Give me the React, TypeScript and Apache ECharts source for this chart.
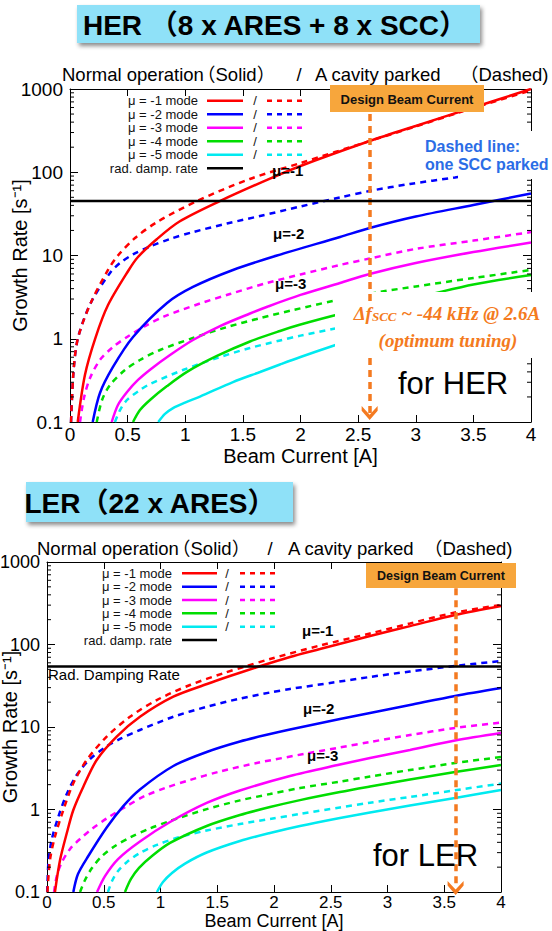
import React, { useEffect, useRef } from 'react';
import * as echarts from 'echarts';

// ---------- data (Beam current [A], growth rate [1/s]) ----------
const xTickValues = [0, 0.5, 1, 1.5, 2, 2.5, 3, 3.5, 4];
const yTickLabels = ['0.1', '1', '10', '100', '1000'];
const legendLabels = ['μ = -1 mode', 'μ = -2 mode', 'μ = -3 mode', 'μ = -4 mode', 'μ = -5 mode', 'rad. damp. rate'];
const modeColors = ['#ff0000', '#0000ff', '#ff00ff', '#00dd00', '#00eaf0'];
const minorTickValues = [0.2, 0.3, 0.4, 0.5, 0.6, 0.7, 0.8, 0.9, 2, 3, 4, 5, 6, 7, 8, 9, 20, 30, 40, 50, 60, 70, 80, 90, 200, 300, 400, 500, 600, 700, 800, 900];

// HER (8 x ARES + 8 x SCC)
const herSolid1 = [[0.067, 0.1], [0.13, 0.37], [0.22, 1.02], [0.33, 2.54], [0.51, 6.7], [0.59, 9.6], [0.755, 15.8], [0.95, 25.6], [1.3, 45], [1.71, 81], [2.0, 119], [2.6, 237], [3.0, 360], [3.5, 600], [4.0, 1000]];
const herDashed1 = [[0.009, 0.1], [0.03, 0.4], [0.069, 1.02], [0.18, 2.69], [0.33, 6.7], [0.416, 10], [0.564, 16.2], [0.755, 25.2], [1.1, 45], [1.56, 83], [2.0, 129], [2.6, 237], [3.0, 355], [3.5, 592], [4.0, 959]];
const herSolid2 = [[0.197, 0.1], [0.26, 0.223], [0.373, 0.458], [0.547, 1.05], [0.842, 2.69], [1.067, 4.19], [1.414, 6.7], [1.796, 10], [2.343, 16.7], [2.6, 21.4], [3.0, 29.4], [3.5, 40.4], [4.0, 55.6]];
const herDashed2 = [[0.009, 0.1], [0.03, 0.4], [0.069, 1.02], [0.18, 2.69], [0.347, 6.17], [0.434, 8.13], [0.547, 10.3], [0.694, 12.8], [0.868, 15.8], [1.067, 19.1], [1.362, 24.2], [1.649, 29.8], [2.0, 38.8], [2.343, 49.8], [2.6, 59.6], [2.95, 72.3], [3.34, 86.5], [3.4, 89]];
const herSolid3 = [[0.362, 0.1], [0.416, 0.16], [0.495, 0.229], [0.59, 0.32], [0.703, 0.434], [0.868, 0.638], [1.067, 0.966], [1.302, 1.42], [1.562, 2.01], [1.718, 2.44], [2.0, 3.36], [2.343, 4.68], [2.6, 6.0], [3.0, 8.13], [3.5, 11.0], [4.0, 14.3]];
const herDashed3 = [[0.087, 0.1], [0.121, 0.194], [0.174, 0.338], [0.26, 0.556], [0.373, 0.796], [0.495, 1.05], [0.651, 1.42], [0.824, 1.87], [1.128, 2.65], [1.388, 3.45], [1.709, 4.68], [2.0, 5.92], [2.343, 7.7], [2.6, 9.2], [3.0, 12.0], [3.5, 15.1], [4.0, 19.1]];
const herSolid4 = [[0.547, 0.1], [0.607, 0.139], [0.694, 0.184], [0.842, 0.27], [1.015, 0.4], [1.275, 0.621], [1.562, 0.927], [1.822, 1.24], [2.0, 1.48], [2.343, 1.98], [2.69, 2.54], [3.063, 3.26], [3.5, 4.49], [4.0, 5.83]];
const herDashed4 = [[0.232, 0.1], [0.278, 0.184], [0.347, 0.278], [0.477, 0.421], [0.607, 0.556], [0.781, 0.733], [1.067, 1.02], [1.362, 1.38], [1.649, 1.77], [1.935, 2.21], [2.282, 2.84], [2.69, 3.65], [3.0, 4.25], [3.5, 5.37], [4.0, 6.7]];
const herSolid5 = [[0.766, 0.1], [0.824, 0.125], [0.894, 0.147], [0.998, 0.171], [1.128, 0.202], [1.414, 0.302], [1.649, 0.399], [1.822, 0.491], [2.0, 0.604], [2.317, 0.853]];
const herDashed5 = [[0.39, 0.1], [0.434, 0.139], [0.495, 0.184], [0.607, 0.242], [0.694, 0.286], [0.98, 0.421], [1.275, 0.587], [1.562, 0.775], [1.822, 0.953], [2.0, 1.09], [2.3, 1.33]];
const herDampRate = 45;
const herDesignCurrent = 2.6;

// LER (22 x ARES)
const lerSolid1 = [[0.07, 0.1], [0.115, 0.244], [0.174, 0.515], [0.232, 0.986], [0.32, 1.89], [0.438, 3.98], [0.614, 7.64], [0.819, 13.3], [1.113, 23.3], [1.41, 33.2], [1.612, 41.5], [1.841, 52.6], [2.141, 70.5], [2.405, 88], [2.846, 127], [3.198, 167], [3.595, 228], [4.0, 293]];
const lerDashed1 = [[0.004, 0.1], [0.026, 0.244], [0.07, 0.468], [0.144, 0.986], [0.232, 2.08], [0.35, 3.98], [0.526, 7.64], [0.731, 13.3], [0.967, 21.2], [1.26, 32.3], [1.553, 44.8], [1.744, 54.1], [1.965, 66.7], [2.405, 97.2], [2.846, 136], [3.198, 180], [3.595, 244], [4.0, 301]];
const lerSolid2 = [[0.232, 0.1], [0.273, 0.165], [0.364, 0.273], [0.526, 0.605], [0.672, 1.1], [0.819, 1.75], [1.113, 3.37], [1.407, 4.98], [1.7, 6.67], [1.965, 8.22], [2.141, 9.33], [2.581, 12.5], [2.846, 14.8], [3.198, 18.5], [3.595, 23.8], [4.0, 29.7]];
const lerDashed2 = [[0.002, 0.1], [0.013, 0.231], [0.041, 0.427], [0.1, 0.818], [0.174, 1.54], [0.262, 2.62], [0.379, 4.09], [0.511, 5.65], [0.643, 7.16], [0.819, 9.2], [1.113, 13.3], [1.407, 17.6], [1.7, 22.1], [1.965, 26.2], [2.141, 28.9], [2.52, 34.6], [2.846, 40.4], [3.198, 47.1], [3.595, 54.9], [4.0, 63.1]];
const lerSolid3 = [[0.441, 0.1], [0.511, 0.156], [0.626, 0.251], [0.819, 0.41], [1.084, 0.705], [1.407, 1.2], [1.7, 1.7], [2.141, 2.55], [2.581, 3.51], [2.846, 4.21], [3.198, 5.26], [3.595, 6.86], [4.0, 8.46]];
const lerDashed3 = [[0.062, 0.1], [0.088, 0.161], [0.132, 0.231], [0.203, 0.332], [0.291, 0.439], [0.396, 0.581], [0.526, 0.778], [0.687, 1.07], [0.863, 1.46], [1.04, 1.82], [1.26, 2.28], [1.524, 2.89], [1.848, 3.66], [2.288, 4.78], [2.581, 5.65], [2.846, 6.58], [3.198, 8.0], [3.595, 9.73], [4.0, 11.3]];
const lerSolid4 = [[0.687, 0.1], [0.74, 0.144], [0.811, 0.196], [0.925, 0.273], [1.084, 0.393], [1.407, 0.631], [1.7, 0.857], [1.965, 1.07], [2.229, 1.3], [2.581, 1.63], [2.846, 1.9], [3.198, 2.31], [3.595, 2.85], [4.0, 3.46]];
const lerDashed4 = [[0.291, 0.1], [0.335, 0.14], [0.396, 0.195], [0.485, 0.273], [0.599, 0.361], [0.731, 0.458], [0.907, 0.589], [1.084, 0.726], [1.407, 1.01], [1.7, 1.29], [1.965, 1.54], [2.229, 1.82], [2.581, 2.18], [2.846, 2.51], [3.198, 3.01], [3.595, 3.66], [4.0, 4.33]];
const lerSolid5 = [[0.969, 0.1], [1.022, 0.132], [1.101, 0.17], [1.216, 0.221], [1.407, 0.301], [1.7, 0.415], [1.965, 0.519], [2.229, 0.631], [2.581, 0.789], [2.846, 0.92], [3.198, 1.12], [3.595, 1.38], [4.0, 1.72]];
const lerDashed5 = [[0.537, 0.1], [0.573, 0.136], [0.626, 0.18], [0.705, 0.231], [0.819, 0.297], [0.969, 0.372], [1.172, 0.465], [1.407, 0.556], [1.7, 0.667], [1.965, 0.767], [2.229, 0.882], [2.581, 1.06], [2.846, 1.21], [3.198, 1.42], [3.595, 1.71], [4.0, 2.06]];
const lerDampRate = 54;
const lerDesignCurrent = 3.6;

const herSolid = [herSolid1, herSolid2, herSolid3, herSolid4, herSolid5];
const herDashed = [herDashed1, herDashed2, herDashed3, herDashed4, herDashed5];
const lerSolid = [lerSolid1, lerSolid2, lerSolid3, lerSolid4, lerSolid5];
const lerDashed = [lerDashed1, lerDashed2, lerDashed3, lerDashed4, lerDashed5];

// ---------- styling helpers ----------
const SANS = '"Liberation Sans", Arial, Helvetica, "Noto Sans CJK JP", sans-serif';
const SERIF = '"Liberation Serif", "Times New Roman", serif';
const ORANGE = '#f47a20';
const DASH = [6, 5];

const fmtLog = (v: number) => {
  const n = Number(Number(v).toPrecision(6));
  const i = Math.round(Math.log10(n)) + 1;
  return yTickLabels[i] ?? String(n);
};

function xAxes(gridIndex: number, nameGap: number, nameSize: number, labelSize: number, labelMargin: number) {
  const common = {
    type: 'value', gridIndex, min: 0, max: 4, interval: 0.5,
    axisLine: { show: true, onZero: false, lineStyle: { color: '#000', width: 1 } },
    axisTick: { show: true, inside: true, length: 7, lineStyle: { color: '#000', width: 1 } },
    splitLine: { show: false },
  };
  return [
    {
      ...common, position: 'bottom',
      name: 'Beam Current [A]', nameLocation: 'middle', nameGap, nameMoveOverlap: false,
      nameTextStyle: { fontSize: nameSize, color: '#000', fontFamily: SANS, lineHeight: nameSize },
      axisLabel: { color: '#000', fontSize: labelSize, lineHeight: labelSize, fontFamily: SANS, margin: labelMargin, formatter: (v: number) => String(xTickValues.find((t) => Math.abs(t - v) < 1e-6) ?? v) },
    },
    { ...common, position: 'top', axisLabel: { show: false } },
  ];
}

function yAxes(gridIndex: number, nameGap: number, nameSize: number, labelSize: number) {
  const common = {
    type: 'log', logBase: 10, gridIndex, min: 0.1, max: 1000,
    axisLine: { show: true, onZero: false, lineStyle: { color: '#000', width: 1 } },
    axisTick: { show: true, inside: true, length: 8, lineStyle: { color: '#000', width: 1 } },
    splitLine: { show: false },
  };
  return [
    {
      ...common, position: 'left',
      name: 'Growth Rate [s⁻¹]', nameLocation: 'middle', nameGap, nameMoveOverlap: false,
      nameTextStyle: { fontSize: nameSize, color: '#000', fontFamily: SANS },
      axisLabel: { color: '#000', fontSize: labelSize, fontFamily: SANS, margin: 7, formatter: fmtLog },
    },
    { ...common, position: 'right', axisLabel: { show: false } },
  ];
}

function curve(data: number[][], color: string, dashed: boolean, axis: number) {
  return {
    type: 'line', xAxisIndex: axis, yAxisIndex: axis, data,
    showSymbol: false, symbol: 'none', smooth: 0.3,
    lineStyle: { color, width: 2.5, type: dashed ? DASH : 'solid' },
    silent: true, z: 3, animation: false,
  };
}

function minorTicks(axis: number) {
  return {
    type: 'custom', xAxisIndex: axis, yAxisIndex: axis, silent: true, z: 4,
    data: minorTickValues.map((v) => [0, v]),
    renderItem: (_p: any, api: any) => {
      const v = api.value(1);
      const l = api.coord([0, v]);
      const r = api.coord([4, v]);
      const style = { stroke: '#000', lineWidth: 1 };
      return {
        type: 'group',
        children: [
          { type: 'line', shape: { x1: l[0], y1: l[1], x2: l[0] + 4, y2: l[1] }, style },
          { type: 'line', shape: { x1: r[0] - 4, y1: r[1], x2: r[0], y2: r[1] }, style },
        ],
      };
    },
  };
}

const arrowHead = 'path://M5,0 L10,6 L10,9 L5,3.5 L0,9 L0,6 Z';

function dampSeries(rate: number, axis: number, segments: number[][][]) {
  return {
    type: 'line', xAxisIndex: axis, yAxisIndex: axis,
    data: [[0, rate], [4, rate]], showSymbol: false, symbol: 'none',
    lineStyle: { color: '#000', width: 2.5 }, silent: true, z: 10,
    markLine: {
      silent: true, animation: false,
      label: { show: false },
      lineStyle: { color: ORANGE, width: 3.5, type: [7, 5] },
      data: segments.map((seg, i) => [
        { coord: seg[0], symbol: 'none' },
        { coord: seg[1], symbol: i === segments.length - 1 ? arrowHead : 'none', symbolSize: [16, 14] },
      ]),
    },
  };
}

function legendGraphic(textRight: number, y0: number, dy: number, s1: number, s2: number, slashX: number, d1: number, d2: number) {
  const els: any[] = [];
  legendLabels.forEach((label, i) => {
    const y = y0 + i * dy;
    const color = i < 5 ? modeColors[i] : '#000';
    els.push({ type: 'text', z: 30, style: { text: label, x: textRight, y, textAlign: 'right', textVerticalAlign: 'middle', font: `13px ${SANS}`, fill: '#111' } });
    els.push({ type: 'line', z: 30, shape: { x1: s1, y1: y, x2: s2, y2: y }, style: { stroke: color, lineWidth: 2.5 } });
    if (i < 5) {
      els.push({ type: 'text', z: 30, style: { text: '/', x: slashX, y, textAlign: 'center', textVerticalAlign: 'middle', font: `13px ${SANS}`, fill: '#111' } });
      els.push({ type: 'line', z: 30, shape: { x1: d1, y1: y, x2: d2, y2: y }, style: { stroke: color, lineWidth: 2.5, lineDash: [5, 5] } });
    }
  });
  return els;
}

function titleBox(x: number, y: number, w: number, h: number, text: string, cx: number) {
  return [
    { type: 'rect', z: 30, shape: { x, y, width: w, height: h }, style: { fill: '#8fe1f8', shadowBlur: 4, shadowOffsetX: 2, shadowOffsetY: 3, shadowColor: 'rgba(0,0,0,0.45)' } },
    { type: 'text', z: 31, style: { text, x: cx, y: y + h / 2 + 1, textAlign: 'center', textVerticalAlign: 'middle', font: `bold 28px ${SANS}`, fill: '#000' } },
  ];
}

function designBox(x: number, y: number, w: number, h: number, size: number) {
  return [
    { type: 'rect', z: 30, shape: { x, y, width: w, height: h }, style: { fill: '#f7a63c' } },
    { type: 'text', z: 31, style: { text: 'Design Beam Current', x: x + w / 2, y: y + h / 2 + 0.5, textAlign: 'center', textVerticalAlign: 'middle', font: `bold ${size}px ${SANS}`, fill: '#111' } },
  ];
}

function label(text: string, x: number, y: number, font: string, fill = '#000', align = 'left') {
  return { type: 'text', z: 31, style: { text, x, y, textAlign: align, textVerticalAlign: 'middle', font, fill } };
}

function subtitle(y: number, xs: number[]) {
  const f = `18.5px ${SANS}`;
  return [
    label('Normal operation', xs[0], y, f),
    label('（Solid）', xs[1], y, f),
    label('/', xs[2], y, f, '#000', 'center'),
    label('A cavity parked', xs[3], y, f),
    label('（Dashed)', xs[4], y, f),
  ];
}

function buildOption() {
  const series: any[] = [];
  for (let i = 4; i >= 0; i--) {
    series.push(curve(herDashed[i], modeColors[i], true, 0));
    series.push(curve(herSolid[i], modeColors[i], false, 0));
    series.push(curve(lerDashed[i], modeColors[i], true, 2));
    series.push(curve(lerSolid[i], modeColors[i], false, 2));
  }
  series.push(minorTicks(0), minorTicks(2));
  series.push(dampSeries(herDampRate, 0, [
    [[herDesignCurrent, 500], [herDesignCurrent, 2.76]],
    [[herDesignCurrent, 0.587], [herDesignCurrent, 0.128]],
  ]));
  series.push(dampSeries(lerDampRate, 2, [
    [[lerDesignCurrent, 480], [lerDesignCurrent, 0.112]],
  ]));

  const graphic: any[] = [
    // white masks behind the annotations (cover the curves under them)
    { type: 'rect', z: 5, shape: { x: 458, y: 131, width: 94, height: 48 }, style: { fill: '#fff' } },
    { type: 'rect', z: 5, shape: { x: 335, y: 292, width: 217, height: 66 }, style: { fill: '#fff' } },
    ...titleBox(77, 5, 403, 38, 'HER （8 x ARES + 8 x SCC）', 275),
    ...titleBox(26, 482, 267, 40, 'LER（22 x ARES）', 150),
    ...subtitle(74, [62, 197, 299, 315, 460]),
    ...subtitle(548, [37, 172, 270, 288, 424]),
    ...legendGraphic(198, 100.7, 13.5, 207, 243, 255, 267, 303),
    ...legendGraphic(172, 573.3, 13.35, 182, 217, 227, 240, 276),
    ...designBox(330, 85, 154, 27, 13),
    ...designBox(366, 563, 150, 25, 12.5),
    label('Dashed line:', 425, 146, `bold 16px ${SANS}`, '#2b6de6'),
    label('one SCC parked', 425, 164, `bold 16px ${SANS}`, '#2b6de6'),
    {
      type: 'text', z: 31,
      style: {
        text: '{a|Δf}{b|SCC}{a| ~ -44 kHz @ 2.6A}', x: 447, y: 313, textAlign: 'center', textVerticalAlign: 'middle',
        rich: {
          a: { fontFamily: SERIF, fontStyle: 'italic', fontWeight: 'bold', fontSize: 19, fill: ORANGE, verticalAlign: 'bottom' },
          b: { fontFamily: SERIF, fontStyle: 'italic', fontWeight: 'bold', fontSize: 13, fill: ORANGE, verticalAlign: 'bottom' },
        },
      },
    },
    label('(optimum tuning)', 448, 340, `italic bold 19px ${SERIF}`, ORANGE, 'center'),
    label('for HER', 398, 383, `31px ${SANS}`),
    label('for LER', 373, 855, `31px ${SANS}`),
    label('μ=-1', 272, 170, `bold 15px ${SANS}`),
    label('μ=-2', 273, 233, `bold 15px ${SANS}`),
    label('μ=-3', 275, 283, `bold 15px ${SANS}`),
    label('μ=-1', 302, 630, `bold 15px ${SANS}`),
    label('μ=-2', 303, 708, `bold 15px ${SANS}`),
    label('μ=-3', 307, 755, `bold 15px ${SANS}`),
    label('Rad. Damping Rate', 48, 674, `15px ${SANS}`),
  ];

  return {
    animation: false,
    backgroundColor: '#fff',
    grid: [
      { left: 70, top: 89, width: 461, height: 333, containLabel: false, outerBoundsMode: 'none' },
      { left: 47, top: 562, width: 454, height: 330, containLabel: false, outerBoundsMode: 'none' },
    ],
    xAxis: [...xAxes(0, 24, 20, 19, 3), ...xAxes(1, 20, 18, 17, 2)],
    yAxis: [...yAxes(0, 40, 20, 19), ...yAxes(1, 27, 20, 18)],
    series,
    graphic,
  };
}

export default function App() {
  const ref = useRef<HTMLDivElement>(null);
  useEffect(() => {
    document.body.style.margin = '0';
    const chart = echarts.init(ref.current as HTMLDivElement, null, { renderer: 'svg' });
    chart.setOption(buildOption() as any);
    return () => chart.dispose();
  }, []);
  return <div ref={ref} style={{ width: 552, height: 931, position: 'absolute', left: 0, top: 0, background: '#fff' }} />;
}
